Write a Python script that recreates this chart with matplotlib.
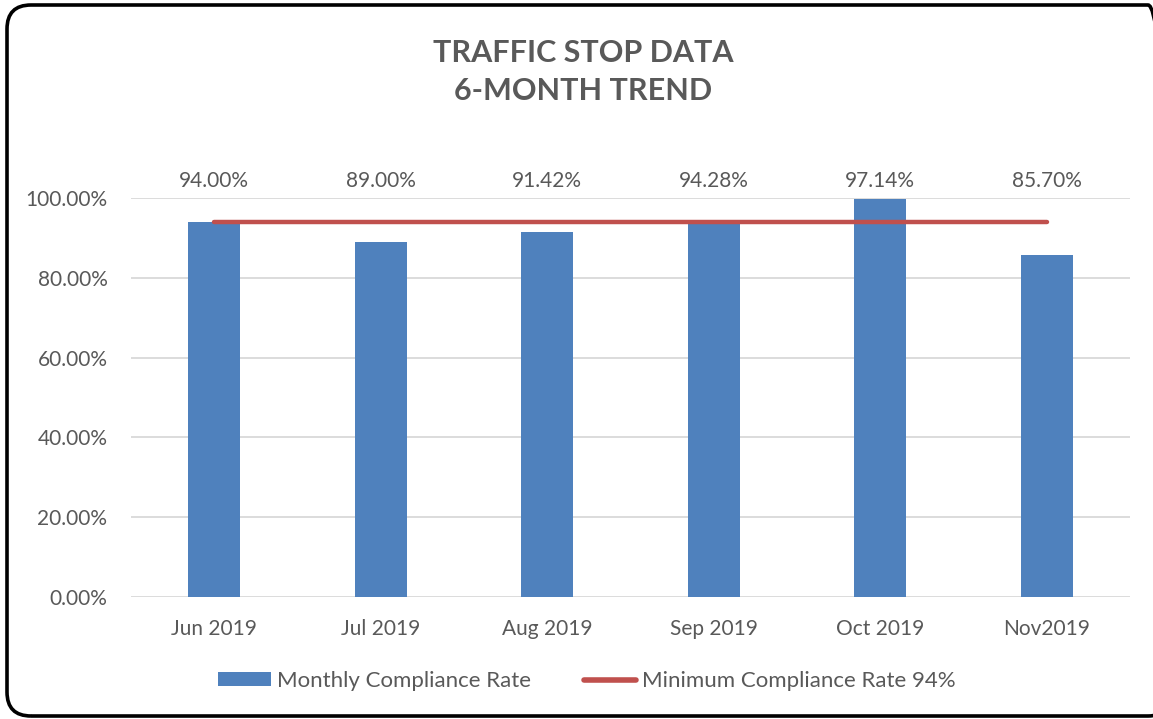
# Traffic stop compliance, 6-month trend (bar + minimum-rate line)
import numpy as np
import matplotlib
matplotlib.use('Agg')
import matplotlib.pyplot as plt
from matplotlib.patches import FancyBboxPatch, Patch
from matplotlib.lines import Line2D
from matplotlib.ticker import FuncFormatter

months = ["Jun 2019", "Jul 2019", "Aug 2019", "Sep 2019", "Oct 2019", "Nov2019"]
compliance = [94.0, 89.0, 91.42, 94.28, 99.7, 85.7]        # bar heights as drawn
labels = ["94.00%", "89.00%", "91.42%", "94.28%", "97.14%", "85.70%"]
minimum = [94.0] * len(months)

BLUE = "#4F81BD"; RED = "#C0504D"; GREY = "#595959"; GRID = "#D9D9D9"
plt.rcParams["font.family"] = ["Lato", "DejaVu Sans"]
W, H = 1153, 719

fig = plt.figure(figsize=(W/100, H/100), dpi=100)
ax = fig.add_axes([131/W, 1 - 597/H, 999/W, 399/H])

x = np.arange(len(months))
ax.bar(x, compliance, width=0.31, color=BLUE, zorder=2)
ax.plot(x, minimum, color=RED, lw=3.2, solid_capstyle="round", zorder=3)
for xi, lab in zip(x, labels):
    ax.text(xi, 104.3, lab, ha="center", va="center", fontsize=15, color=GREY, clip_on=False)

ax.set_xlim(-0.5, len(months) - 0.5)
ax.set_ylim(0, 100)
ax.set_yticks(np.arange(0, 101, 20))
ax.yaxis.set_major_formatter(FuncFormatter(lambda v, _: f"{v:.2f}%"))
ax.set_xticks(x, months)
ax.tick_params(length=0, labelsize=15, labelcolor=GREY)
ax.tick_params(axis="x", pad=16)
ax.tick_params(axis="y", pad=17)
ax.grid(axis="y", color=GRID, lw=1.3, zorder=0)
ax.set_axisbelow(True)
for s in ax.spines.values():
    s.set_visible(False)

fig.text(583/W, 1 - 72/H, "TRAFFIC STOP DATA\n6-MONTH TREND", ha="center", va="center",
         fontsize=22, fontweight="bold", color=GREY, linespacing=1.45)

handles = [Patch(facecolor=BLUE), Line2D([0], [0], color=RED, lw=4, solid_capstyle="round")]
fig.legend(handles, ["Monthly Compliance Rate", "Minimum Compliance Rate 94%"],
           loc="center", bbox_to_anchor=(587/W, 1 - 681/H), ncol=2, frameon=False,
           fontsize=16, labelcolor=GREY, handlelength=2.35, handleheight=0.55,
           columnspacing=2.4, handletextpad=0.27)

# rounded outer frame (inches); right edge lies just off the canvas
x0, y0, x1, y1 = 7, 5, 1172, 716
border = FancyBboxPatch((x0/100, (H - y1)/100), (x1 - x0)/100, (y1 - y0)/100,
                        boxstyle="round,pad=0,rounding_size=0.24",
                        transform=fig.dpi_scale_trans, fill=False, ec="black", lw=2.6)
fig.patches.append(border)

fig.savefig("out.png", dpi=100)
